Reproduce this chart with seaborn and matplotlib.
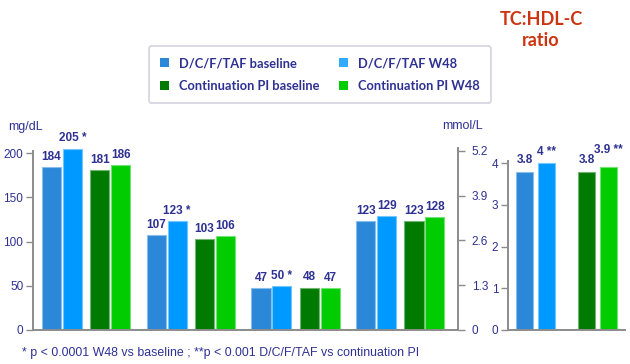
import pandas as pd
import seaborn as sns
import matplotlib.pyplot as plt
from matplotlib.patches import Patch
from matplotlib.colors import to_rgb

# Dados
series = ['D/C/F/TAF baseline', 'D/C/F/TAF W48', 'Continuation PI baseline', 'Continuation PI W48']
grupos = ['TC', 'LDL-C', 'HDL-C', 'TG']
tc = [184, 205, 181, 186]
ldl = [107, 123, 103, 106]
hdl = [47, 50, 48, 47]
tg = [123, 129, 123, 128]
stars_tc = ['', ' *', '', '']
stars_ldl = ['', ' *', '', '']
stars_hdl = ['', ' *', '', '']
stars_tg = ['', '', '', '']
ratio = [3.8, 4.0, 3.8, 3.9]
stars_ratio = ['', ' **', '', ' **']
mmol_ticks = [0, 1.3, 2.6, 3.9, 5.2]
mg_por_mmol = 38.9

cores = ['#2B88D8', '#0099FF', '#007A00', '#00CC00']
cores_leg = ['#2B88D8', '#33AAFF', '#007A00', '#00CC00']
navy = '#2E3192'
cinza = '#8C8C8C'

sns.set_theme(style='white')
plt.rcParams['font.family'] = ['Liberation Sans', 'DejaVu Sans']

# Monta o dataframe longo (posições com espaço entre os pares)
desloc = [-0.33, -0.13, 0.13, 0.33]
linhas = []
for g, (vals, stars) in enumerate(zip([tc, ldl, hdl, tg], [stars_tc, stars_ldl, stars_hdl, stars_tg])):
    for s in range(4):
        linhas.append({'grupo': grupos[g], 'serie': series[s], 'pos': g + desloc[s],
                       'valor': vals[s], 'rotulo': f'{vals[s]}{stars[s]}'})
df = pd.DataFrame(linhas)

pos_ratio = [0, 1, 2.8, 3.8]
df_r = pd.DataFrame({'serie': series, 'pos': pos_ratio, 'valor': ratio,
                     'rotulo': [f'{v:g}{s}' for v, s in zip(ratio, stars_ratio)]})

fig = plt.figure(figsize=(6.3, 3.64), dpi=100)
y0 = 1 - 330 / 364
ax = fig.add_axes([33 / 630, y0, (458 - 33) / 630, 210 * 0.885 / 364])
ax3 = fig.add_axes([508 / 630, y0, (625 - 508) / 630, 4.2 * 41.7 / 364])

paleta = dict(zip(series, cores))
sns.barplot(data=df, x='pos', y='valor', hue='serie', hue_order=series, palette=paleta,
            native_scale=True, dodge=False, width=0.91, orient='x', ax=ax, legend=False,
            saturation=1)
sns.barplot(data=df_r, x='pos', y='valor', hue='serie', hue_order=series, palette=paleta,
            native_scale=True, dodge=False, width=0.77, orient='x', ax=ax3, legend=False,
            saturation=1)

# Bordas claras nas barras
for a in (ax, ax3):
    for p in a.patches:
        r, g, b = to_rgb(p.get_facecolor())
        p.set_edgecolor((r + (1 - r) * 0.45, g + (1 - g) * 0.45, b + (1 - b) * 0.45))
        p.set_linewidth(0.8)

# Rótulos de valores
for _, row in df.iterrows():
    ax.annotate(row['rotulo'], (row['pos'], row['valor']), xytext=(0, 3), textcoords='offset points',
                ha='center', va='bottom', fontsize=8.5, fontweight='bold', color=navy)
for _, row in df_r.iterrows():
    extra = 4 if row['rotulo'].startswith('3.9') else 0
    ax3.annotate(row['rotulo'], (row['pos'], row['valor']), xytext=(0, 4 + extra), textcoords='offset points',
                 ha='center', va='bottom', fontsize=8.5, fontweight='bold', color=navy)

# Eixo principal (mg/dL)
ax.set_xlim(-0.506, 3.55)
ax.set_ylim(0, 210)
ax.set_yticks([0, 50, 100, 150, 200])
ax.set_xticks([])
ax.set_xlabel('')
ax.set_ylabel('')
ax.spines['top'].set_visible(False)
ax.spines['right'].set_visible(False)
ax.spines['left'].set_bounds(0, 202)
for sp in ('left', 'bottom'):
    ax.spines[sp].set_color(cinza)
    ax.spines[sp].set_linewidth(1.4)
ax.tick_params(axis='y', direction='out', length=5, width=1, color=cinza, labelsize=8.5,
               labelcolor=navy, left=True, pad=2)

# Eixo secundário (mmol/L)
ax2 = ax.twinx()
ax2.set_ylim(0, 210 / mg_por_mmol)
ax2.set_yticks(mmol_ticks)
ax2.set_yticklabels([f'{t:g}' if t else '0' for t in mmol_ticks])
for sp in ('top', 'left', 'bottom'):
    ax2.spines[sp].set_visible(False)
ax2.spines['right'].set_bounds(0, 5.28)
ax2.spines['right'].set_color(cinza)
ax2.spines['right'].set_linewidth(1.4)
ax2.tick_params(axis='y', direction='out', length=5, width=1, color=cinza, labelsize=8.5,
                labelcolor=navy, right=True, pad=5)

# Eixo da razão TC:HDL-C
ax3.set_xlim(-0.77, 4.55)
ax3.set_ylim(0, 4.2)
ax3.set_yticks([0, 1, 2, 3, 4])
ax3.set_xticks([])
ax3.set_xlabel('')
ax3.set_ylabel('')
ax3.spines['top'].set_visible(False)
ax3.spines['right'].set_visible(False)
ax3.spines['left'].set_bounds(0, 4.05)
for sp in ('left', 'bottom'):
    ax3.spines[sp].set_color(cinza)
    ax3.spines[sp].set_linewidth(1.4)
ax3.tick_params(axis='y', direction='out', length=5, width=1, color=cinza, labelsize=8.5,
                labelcolor=navy, left=True, pad=2)

# Textos
fig.text(25 / 630, 1 - 127 / 364, 'mg/dL', ha='center', va='center', fontsize=9, color=navy)
fig.text(462 / 630, 1 - 126 / 364, 'mmol/L', ha='center', va='center', fontsize=9, color=navy)
fig.text(541 / 630, 1 - 30 / 364, 'TC:HDL-C\nratio', ha='center', va='center', fontsize=13,
         fontweight='bold', color='#CC3311', family=['Lato', 'DejaVu Sans'], linespacing=1.35)
fig.text(22 / 630, 1 - 353 / 364, '* p < 0.0001 W48 vs baseline ; **p < 0.001 D/C/F/TAF vs continuation PI',
         ha='left', va='center', fontsize=8.9, color=navy)

# Legenda (ordem por linhas: baseline/W48 de cada braço)
ordem = [0, 2, 1, 3]
handles = [Patch(facecolor=cores_leg[i], edgecolor='none') for i in ordem]
rotulos = [series[i] for i in ordem]
leg = fig.legend(handles, rotulos, ncol=2, loc='center', bbox_to_anchor=(320 / 630, 1 - 74.5 / 364),
                 frameon=True, fancybox=True, handlelength=0.7, handleheight=0.7, handletextpad=0.8,
                 columnspacing=1.5, labelspacing=0.85, borderpad=0.85,
                 prop={'family': ['Lato', 'DejaVu Sans'], 'weight': 'bold', 'size': 9.3})
leg.get_frame().set_edgecolor('#C8C8DC')
leg.get_frame().set_linewidth(1.2)
for t in leg.get_texts():
    t.set_color(navy)

plt.savefig('out.png', dpi=100)
plt.close()
